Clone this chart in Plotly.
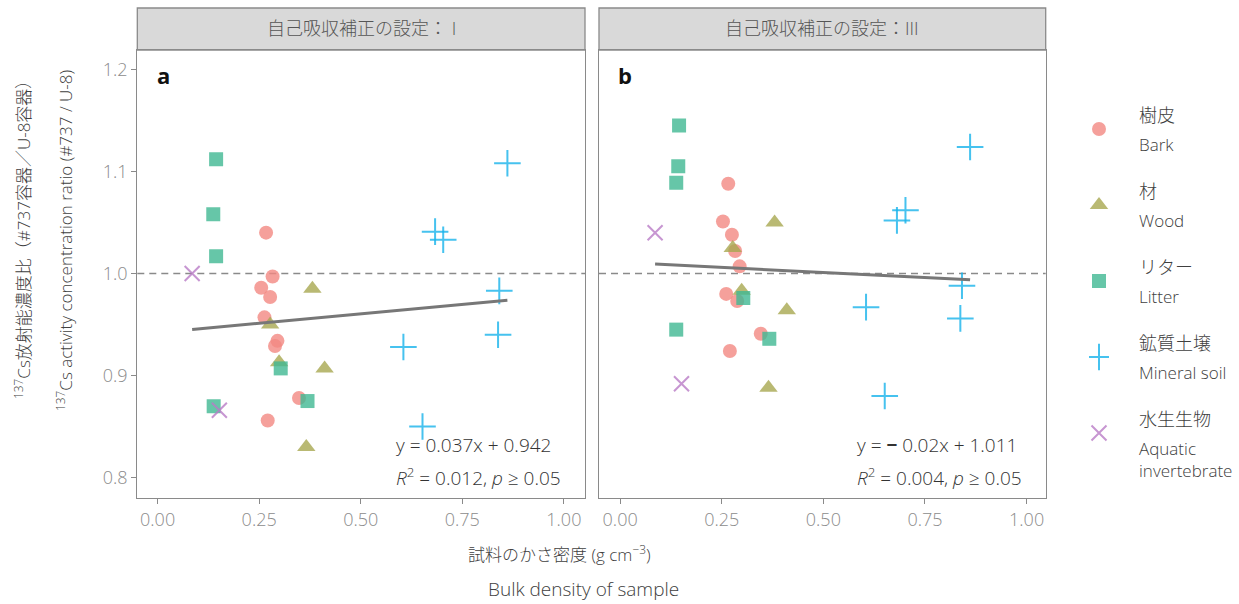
import plotly.graph_objects as go

W, H = 1239, 604

# ---------------- data ----------------
group_jp = ["樹皮", "材", "リター", "鉱質土壌", "水生生物"]
group_en = ["Bark", "Wood", "Litter", "Mineral soil", "Aquatic", ]
group_en_extra = ["", "", "", "", "invertebrate"]

panel_titles = ["自己吸収補正の設定：&nbsp;I", "自己吸収補正の設定：III"]
panel_letters = ["a", "b"]

# panel a (setting I)
bark_x_a = [0.267, 0.283, 0.255, 0.277, 0.263, 0.295, 0.289, 0.348, 0.271]
bark_y_a = [1.040, 0.997, 0.986, 0.977, 0.957, 0.934, 0.929, 0.878, 0.856]
wood_x_a = [0.381, 0.277, 0.299, 0.411, 0.366]
wood_y_a = [0.985, 0.950, 0.913, 0.907, 0.830]
litter_x_a = [0.144, 0.137, 0.144, 0.138, 0.303, 0.369]
litter_y_a = [1.112, 1.058, 1.017, 0.870, 0.907, 0.875]
soil_x_a = [0.861, 0.683, 0.703, 0.841, 0.838, 0.605, 0.652]
soil_y_a = [1.108, 1.041, 1.033, 0.983, 0.940, 0.928, 0.850]
aqua_x_a = [0.085, 0.152]
aqua_y_a = [1.000, 0.866]

# panel b (setting III)
bark_x_b = [0.266, 0.253, 0.275, 0.283, 0.294, 0.261, 0.288, 0.346, 0.270]
bark_y_b = [1.088, 1.051, 1.038, 1.022, 1.007, 0.980, 0.973, 0.941, 0.924]
wood_x_b = [0.380, 0.277, 0.299, 0.410, 0.365]
wood_y_b = [1.050, 1.025, 0.983, 0.964, 0.888]
litter_x_b = [0.145, 0.143, 0.138, 0.303, 0.138, 0.367]
litter_y_b = [1.145, 1.105, 1.089, 0.976, 0.945, 0.936]
soil_x_b = [0.861, 0.702, 0.681, 0.841, 0.605, 0.837, 0.651]
soil_y_b = [1.124, 1.062, 1.052, 0.988, 0.967, 0.956, 0.880]
aqua_x_b = [0.086, 0.151]
aqua_y_b = [1.040, 0.892]

fit_slope = [0.037, -0.02]
fit_intercept = [0.942, 1.011]
fit_eq = ["y = 0.037x + 0.942", "y = <b>−</b> 0.02x + 1.011"]
fit_stats = ["<i>R</i><sup>2</sup> = 0.012, <i>p</i> ≥ 0.05",
             "<i>R</i><sup>2</sup> = 0.004, <i>p</i> ≥ 0.05"]

x_ticks = [0.0, 0.25, 0.5, 0.75, 1.0]
x_ticklabels = ["0.00", "0.25", "0.50", "0.75", "1.00"]
y_ticks = [0.8, 0.9, 1.0, 1.1, 1.2]
y_ticklabels = ["0.8", "0.9", "1.0", "1.1", "1.2"]
ref_ratio = 1.0

# ---------------- styling ----------------
FONT = "Open Sans, Noto Sans CJK JP, sans-serif"
colors = ["#F38882", "#A8A850", "#40B892", "#18B4EC", "#BA7CC7"]
symbols = ["circle", "triangle-up", "square", "cross-thin", "x-thin"]
sizes = [14, 16, 14, 19, 15]

def px_x(p):
    return p / W

def px_y(p):
    return (H - p) / H

def fnt(size, color="#404040", weight=300):
    return dict(family=FONT, size=size, color=color, weight=weight)

xa_dom = [px_x(137.3), px_x(585)]
xb_dom = [px_x(599), px_x(1045.7)]
y_dom = [px_y(498), px_y(50)]

panels = [
    dict(xs=[bark_x_a, wood_x_a, litter_x_a, soil_x_a, aqua_x_a],
         ys=[bark_y_a, wood_y_a, litter_y_a, soil_y_a, aqua_y_a], xr="x", yr="y"),
    dict(xs=[bark_x_b, wood_x_b, litter_x_b, soil_x_b, aqua_x_b],
         ys=[bark_y_b, wood_y_b, litter_y_b, soil_y_b, aqua_y_b], xr="x2", yr="y2"),
]

fig = go.Figure()

def make_marker(gi):
    marker = dict(symbol=symbols[gi], size=sizes[gi], color=colors[gi], opacity=0.8)
    if symbols[gi] in ("cross-thin", "x-thin"):
        marker["line"] = dict(color=colors[gi], width=2)
    else:
        marker["line"] = dict(width=0)
    return marker

for pi, p in enumerate(panels):
    for gi in range(5):
        fig.add_trace(go.Scatter(x=p["xs"][gi], y=p["ys"][gi], mode="markers",
                                 marker=make_marker(gi), xaxis=p["xr"], yaxis=p["yr"],
                                 showlegend=False, hoverinfo="skip"))
    allx = [v for arr in p["xs"] for v in arr]
    fx = [min(allx), max(allx)]
    fy = [fit_slope[pi] * v + fit_intercept[pi] for v in fx]
    fig.add_trace(go.Scatter(x=fx, y=fy, mode="lines",
                             line=dict(color="#777777", width=3),
                             xaxis=p["xr"], yaxis=p["yr"], showlegend=False,
                             hoverinfo="skip"))

# legend keys (drawn on a hidden helper axis)
for gi in range(5):
    fig.add_trace(go.Scatter(x=[0], y=[gi], mode="markers", marker=make_marker(gi),
                             xaxis="x3", yaxis="y3", showlegend=False, hoverinfo="skip"))

axis_common = dict(showgrid=False, zeroline=False, showline=True, mirror=True,
                   linecolor="#8a8a8a", linewidth=1.3, ticks="outside", ticklen=5,
                   tickcolor="#8a8a8a", tickwidth=1.2,
                   tickfont=fnt(18, "#8c8c8c"))

fig.update_layout(
    width=W, height=H, margin=dict(l=0, r=0, t=0, b=0),
    paper_bgcolor="white", plot_bgcolor="white",
    font=dict(family=FONT, color="#404040"),
    xaxis=dict(domain=xa_dom, range=[-0.05, 1.052], tickvals=x_ticks,
               ticktext=x_ticklabels, anchor="y", **axis_common),
    yaxis=dict(domain=y_dom, range=[0.780, 1.219], tickvals=y_ticks,
               ticktext=y_ticklabels, anchor="x", **axis_common),
    xaxis2=dict(domain=xb_dom, range=[-0.052, 1.047], tickvals=x_ticks,
                ticktext=x_ticklabels, anchor="y2", **axis_common),
    yaxis2=dict(domain=y_dom, range=[0.780, 1.219], tickvals=y_ticks,
                anchor="x2", **{**axis_common, "ticks": "", "showticklabels": False}),
    xaxis3=dict(domain=[px_x(1089), px_x(1109)], range=[-1, 1], visible=False,
                anchor="y3", fixedrange=True),
    yaxis3=dict(domain=[px_y(471), px_y(91)], range=[4.5, -0.5], visible=False,
                anchor="x3", fixedrange=True),
)

shapes = []
annotations = []
for pi, (dom, xr, yr) in enumerate([(xa_dom, "x", "y"), (xb_dom, "x2", "y2")]):
    shapes.append(dict(type="rect", xref="paper", yref="paper",
                       x0=dom[0], x1=dom[1], y0=px_y(50), y1=px_y(8),
                       fillcolor="#D9D9D9", line=dict(color="#8a8a8a", width=1.3),
                       layer="below"))
    annotations.append(dict(xref="paper", yref="paper", x=(dom[0] + dom[1]) / 2,
                            y=px_y(28), text=panel_titles[pi], showarrow=False,
                            font=fnt(18, "#555555"),
                            xanchor="center", yanchor="middle"))
    shapes.append(dict(type="line", xref=f"{xr} domain", yref=yr, x0=0, x1=1,
                       y0=ref_ratio, y1=ref_ratio,
                       line=dict(color="#8a8a8a", width=1.5, dash="7px,5px"),
                       layer="below"))
    annotations.append(dict(xref=f"{xr} domain", yref=f"{yr} domain",
                            x=(163 - 137) / 448, y=(498 - 75) / 448,
                            text=f"<b>{panel_letters[pi]}</b>", showarrow=False,
                            font=dict(family="Open Sans, Noto Sans", size=22, color="#111111"),
                            xanchor="center", yanchor="middle"))
    annotations.append(dict(xref=f"{xr} domain", yref=f"{yr} domain",
                            x=(394 - 137) / 448, y=(498 - 445) / 448,
                            text=fit_eq[pi], showarrow=False,
                            font=fnt(19, "#333333"),
                            xanchor="left", yanchor="middle"))
    annotations.append(dict(xref=f"{xr} domain", yref=f"{yr} domain",
                            x=(394 - 137) / 448, y=(498 - 477) / 448,
                            text=fit_stats[pi], showarrow=False,
                            font=fnt(19, "#333333"),
                            xanchor="left", yanchor="middle"))

for gi in range(5):
    annotations.append(dict(xref="paper", yref="y3", x=px_x(1137), y=gi, yshift=14,
                            text=group_jp[gi], showarrow=False, xanchor="left",
                            yanchor="middle", font=fnt(18)))
    annotations.append(dict(xref="paper", yref="y3", x=px_x(1137), y=gi, yshift=-15,
                            text=group_en[gi], showarrow=False, xanchor="left",
                            yanchor="middle", font=fnt(17)))
    if group_en_extra[gi]:
        annotations.append(dict(xref="paper", yref="y3", x=px_x(1137), y=gi, yshift=-37,
                                text=group_en_extra[gi], showarrow=False, xanchor="left",
                                yanchor="middle", font=fnt(17)))

annotations.append(dict(xref="paper", yref="paper", x=px_x(22), y=px_y(236),
                        text="<sup>137</sup>Cs放射能濃度比（#737容器／U-8容器）",
                        textangle=-90, showarrow=False, xanchor="center", yanchor="middle",
                        font=fnt(17)))
annotations.append(dict(xref="paper", yref="paper", x=px_x(64), y=px_y(241),
                        text="<sup>137</sup>Cs activity concentration ratio (#737 / U-8)",
                        textangle=-90, showarrow=False, xanchor="center", yanchor="middle",
                        font=fnt(17)))
annotations.append(dict(xref="paper", yref="paper", x=px_x(559), y=px_y(553),
                        text="試料のかさ密度 (g cm<sup>−3</sup>)", showarrow=False,
                        xanchor="center", yanchor="middle", font=fnt(17)))
annotations.append(dict(xref="paper", yref="paper", x=px_x(583), y=px_y(589),
                        text="Bulk density of sample", showarrow=False,
                        xanchor="center", yanchor="middle", font=fnt(19)))

fig.update_layout(shapes=shapes, annotations=annotations)
fig.write_html("out.html", config={"displayModeBar": False},
               post_script="document.body.style.margin='0';document.body.style.overflow='hidden';")
